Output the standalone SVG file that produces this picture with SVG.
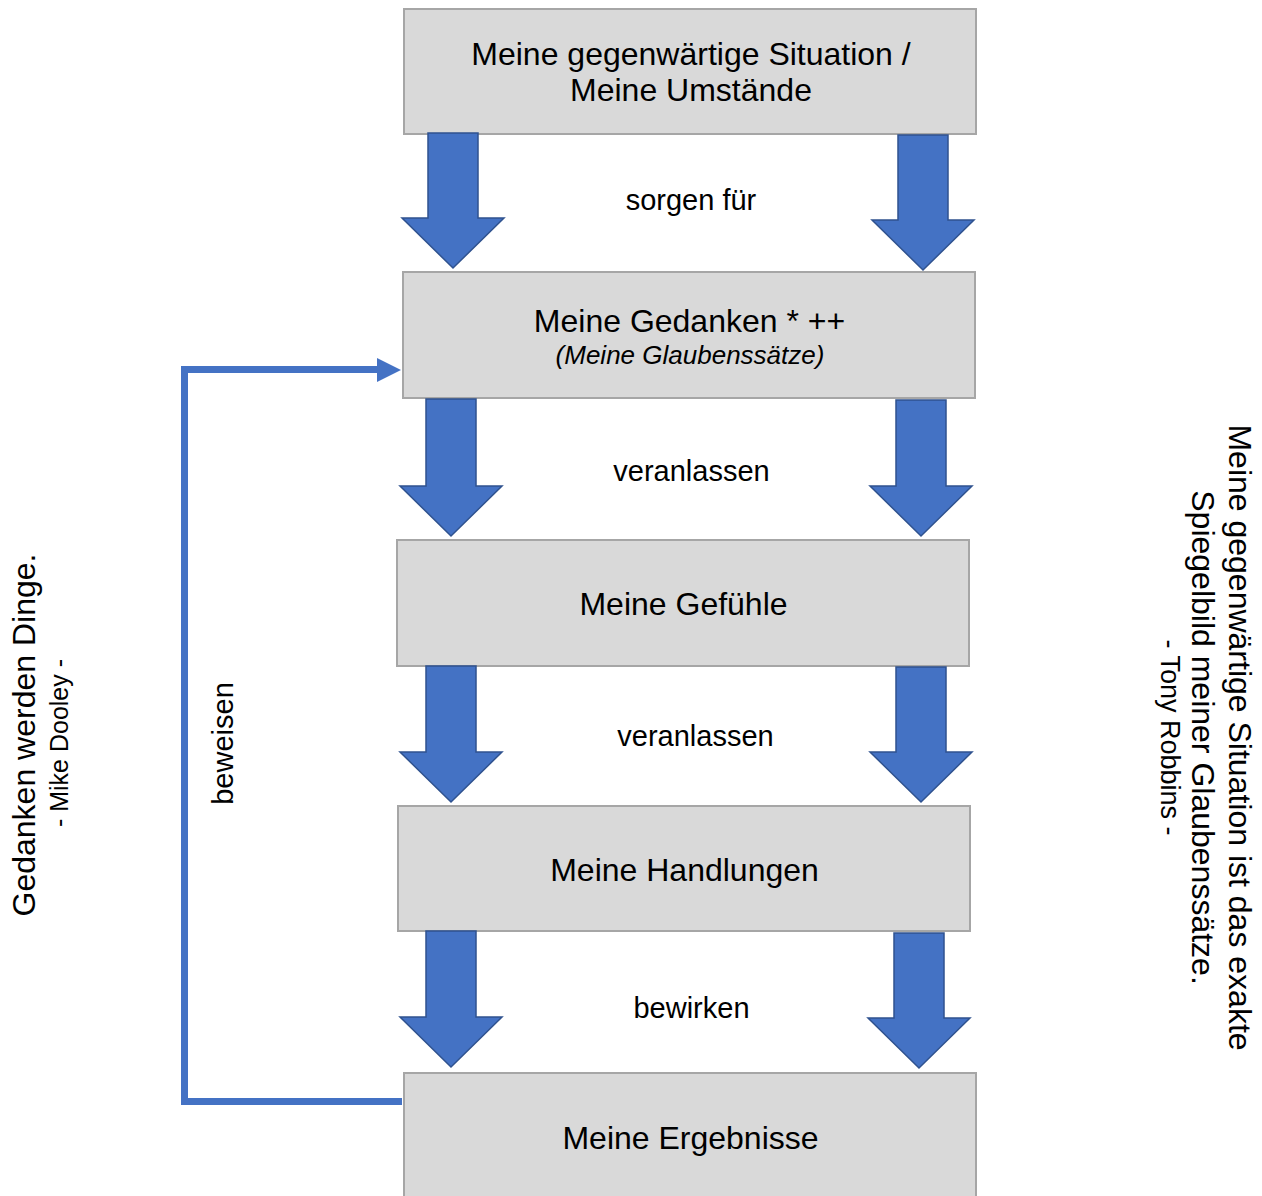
<svg xmlns="http://www.w3.org/2000/svg" width="1262" height="1196" viewBox="0 0 1262 1196">
<style>
.box{fill:#d9d9d9;stroke:#a6a6a6;stroke-width:2}
.arr{fill:#4472c4;stroke:#2f528f;stroke-width:1.5;stroke-linejoin:miter}
.t{font-family:"Liberation Sans",Arial,sans-serif;fill:#000;text-anchor:middle}
.big{font-size:32px}
.lab{font-size:29px}
.it{font-size:26px;font-style:italic}
.fb{fill:none;stroke:#4472c4;stroke-width:7;stroke-linejoin:miter}
</style>
<rect width="1262" height="1196" fill="#fff"/>
<g id="node-situation">
<rect class="box" x="404" y="9" width="572" height="125"/>
<text class="t big" x="691" y="65">Meine gegenwärtige Situation /</text>
<text class="t big" x="691" y="101">Meine Umstände</text>
</g>
<g id="node-gedanken">
<rect class="box" x="403" y="272" width="572" height="126"/>
<text class="t big" x="689.5" y="332">Meine Gedanken * ++</text>
<text class="t it" x="690" y="364">(Meine Glaubenssätze)</text>
</g>
<g id="node-gefuehle">
<rect class="box" x="397" y="540" width="572" height="126"/>
<text class="t big" x="683.5" y="615">Meine Gefühle</text>
</g>
<g id="node-handlungen">
<rect class="box" x="398" y="806" width="572" height="125"/>
<text class="t big" x="684.5" y="881">Meine Handlungen</text>
</g>
<g id="node-ergebnisse">
<rect class="box" x="404" y="1073" width="572" height="140"/>
<text class="t big" x="690.5" y="1149">Meine Ergebnisse</text>
</g>
<g id="connectors">
<polygon class="arr" points="428,133 478,133 478,218 504,218 453,268 402,218 428,218"/>
<polygon class="arr" points="898,135 948,135 948,220 974,220 923,270 872,220 898,220"/>
<polygon class="arr" points="426,399 476,399 476,486 502,486 451,536 400,486 426,486"/>
<polygon class="arr" points="896,400 946,400 946,486 972,486 921,536 870,486 896,486"/>
<polygon class="arr" points="426,666 476,666 476,752 502,752 451,802 400,752 426,752"/>
<polygon class="arr" points="896,667 946,667 946,752 972,752 921,802 870,752 896,752"/>
<polygon class="arr" points="426,931 476,931 476,1017 502,1017 451,1067 400,1017 426,1017"/>
<polygon class="arr" points="894,933 944,933 944,1018 970,1018 919,1068 868,1018 894,1018"/>
<text class="t lab" x="691" y="210">sorgen für</text>
<text class="t lab" x="691.5" y="481">veranlassen</text>
<text class="t lab" x="695.5" y="746">veranlassen</text>
<text class="t lab" x="691.5" y="1018">bewirken</text>
<polyline class="fb" points="402,1101.5 184.5,1101.5 184.5,369.5 378,369.5"/>
<polygon fill="#4472c4" points="377,358 401,370 377,382"/>
<text class="t lab" transform="translate(233,743.5) rotate(-90)">beweisen</text>
</g>
<g id="quote-left">
<text class="t big" transform="translate(35,735) rotate(-90)">Gedanken werden Dinge.</text>
<text class="t" font-size="25" transform="translate(68,743) rotate(-90)">- Mike Dooley -</text>
</g>
<g id="quote-right">
<text class="t big" transform="translate(1229,737.5) rotate(90)">Meine gegenwärtige Situation ist das exakte</text>
<text class="t big" transform="translate(1192,737.5) rotate(90)">Spiegelbild meiner Glaubenssätze.</text>
<text class="t" font-size="27" transform="translate(1161,737.5) rotate(90)">- Tony Robbins -</text>
</g>
</svg>
